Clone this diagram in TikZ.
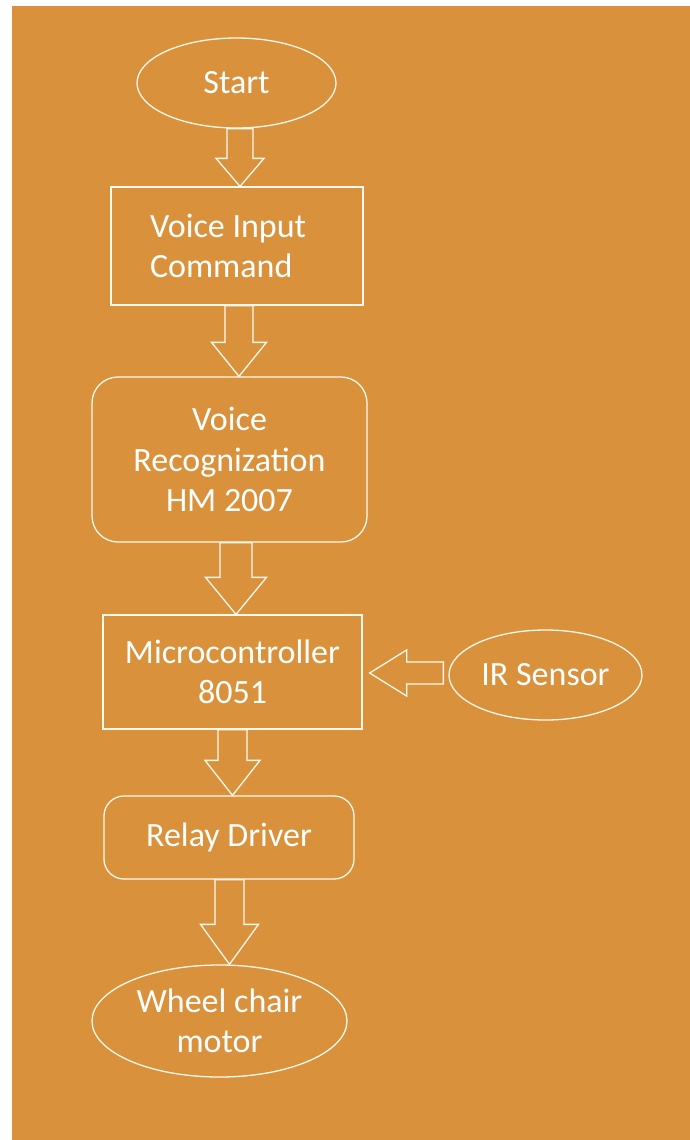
\documentclass[tikz,border=0pt]{standalone}
\usepackage{fontspec}
\setmainfont{Carlito}
\usetikzlibrary{shapes.geometric,calc}
\definecolor{bg}{RGB}{218,145,60}
\definecolor{ln}{RGB}{255,248,236}
\tikzset{
  every node/.style={text=white,font=\fontsize{34}{40.5}\selectfont,inner sep=0pt},
  box/.style={draw=ln,line width=1.3pt,rectangle},
  rbox/.style={draw=ln,line width=1.3pt,rectangle},
  oval/.style={draw=ln,line width=1.3pt,ellipse},
  conn/.style={draw=ln,line width=1.3pt,line join=miter}
}
% #1 from node, #2 to node, #3 centre x, #4 shaft half width, #5 head half width, #6 head length
\newcommand\blockdown[6]{%
  \draw[conn] let \p1=(#1.south), \p2=(#2.north) in
    (#3pt-#4pt,\y1) -- (#3pt-#4pt,\y2+#6pt) -- (#3pt-#5pt,\y2+#6pt) -- (#3pt,\y2)
    -- (#3pt+#5pt,\y2+#6pt) -- (#3pt+#4pt,\y2+#6pt) -- (#3pt+#4pt,\y1) -- cycle;}
\begin{document}
\begin{tikzpicture}[x=1pt,y=-1pt]
\useasboundingbox (0,0) rectangle (690,1140);
\fill[white] (0,0) rectangle (690,1140);
\fill[bg] (12,6) rectangle (690,1140);

\node[oval,minimum width=199pt,minimum height=90pt] (start) at (236.5,83) {Start};
\node[box,minimum width=252pt,minimum height=118pt,text width=174pt,align=flush left] (vic) at (237,246) {Voice Input\\Command};
\node[rbox,rounded corners=26pt,minimum width=275pt,minimum height=165pt,align=center] (vr) at (229.5,459.5) {Voice\\Recognization\\HM 2007};
\node[box,minimum width=259pt,minimum height=114pt,align=center] (mc) at (232.5,672) {Microcontroller\\8051};
\node[oval,minimum width=193pt,minimum height=90pt] (ir) at (545.5,675) {IR Sensor};
\node[rbox,rounded corners=20pt,minimum width=250pt,minimum height=83pt] (rd) at (229,837.5) {Relay Driver};
\node[oval,minimum width=255pt,minimum height=112pt,align=center] (wc) at (219.5,1021) {Wheel chair\\motor};

\blockdown{start}{vic}{240}{13}{24}{28}
\blockdown{vic}{vr}{239}{14}{27.5}{34}
\blockdown{vr}{mc}{236}{16}{30.5}{37}
\blockdown{mc}{rd}{232.5}{14.5}{27.5}{35}
\blockdown{rd}{wc}{229.5}{14.5}{29}{40}

\draw[conn] let \p1=(ir.west), \p2=(mc.east) in
  (\x1-5pt,-662pt) -- (\x2+44pt,-662pt) -- (\x2+44pt,-650pt) -- (\x2+7pt,-673pt)
  -- (\x2+44pt,-696pt) -- (\x2+44pt,-684pt) -- (\x1-5pt,-684pt) -- cycle;
\end{tikzpicture}
\end{document}
